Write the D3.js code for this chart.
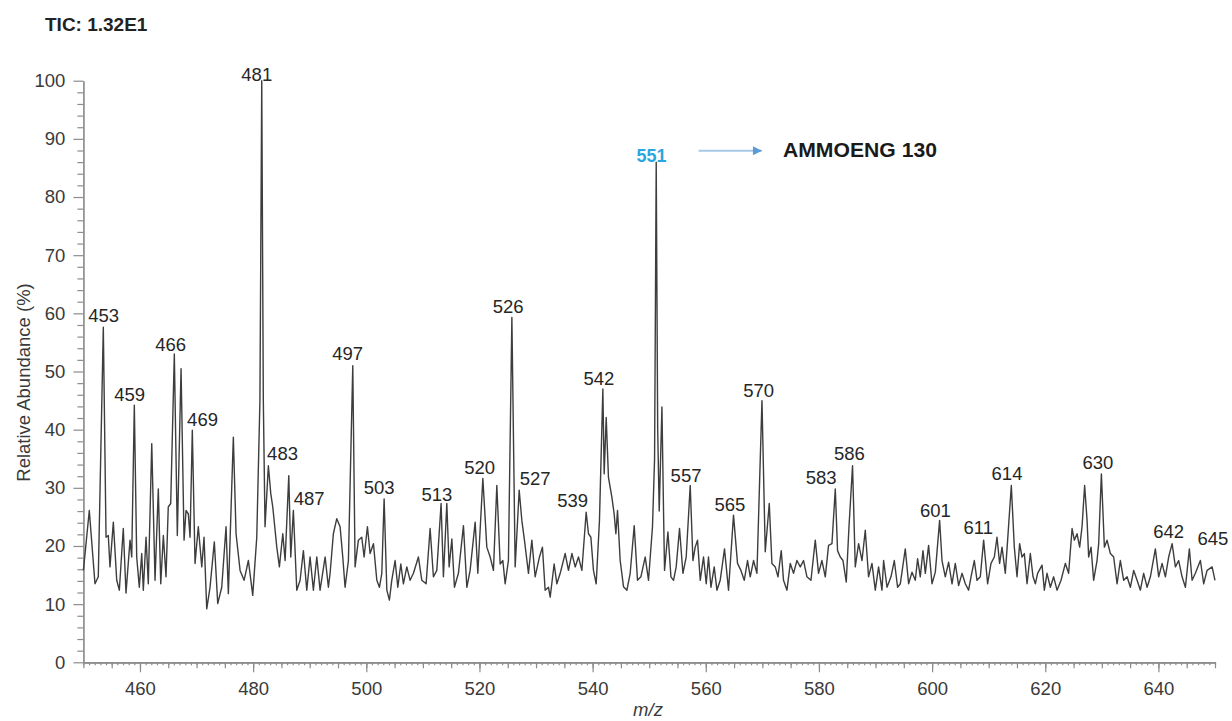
<!DOCTYPE html>
<html>
<head>
<meta charset="utf-8">
<script src="https://cdn.jsdelivr.net/npm/d3@7"></script>
<style>
    body { margin: 0; background: #fff; }
    text { font-family: "Liberation Sans", Arial, sans-serif; }
</style>
</head>
<body>
<svg class="chart"></svg>
<script>

// m/z values and relative abundance (%)
var mzValues = [
    450.0, 451.04, 452.05, 452.63, 453.52, 454.0, 454.4, 454.7, 455.29, 455.89,
    456.35, 457.05, 457.53, 458.24, 458.54, 459.0, 459.42, 459.88, 460.31, 460.59,
    461.07, 461.47, 462.08, 462.66, 463.24, 463.67, 464.13, 464.6, 465.0, 465.43,
    466.07, 466.6, 467.26, 467.79, 468.14, 468.55, 468.85, 469.25, 469.73, 470.31,
    470.92, 471.32, 471.8, 472.38, 473.14, 473.74, 474.45, 475.21, 475.62, 476.5,
    476.98, 477.69, 478.4, 479.16, 479.93, 480.64, 481.2, 481.52, 481.8, 482.1,
    482.69, 483.12, 483.47, 484.18, 484.64, 485.24, 485.65, 486.3, 486.65, 487.11,
    487.71, 488.3, 488.88, 489.48, 490.06, 490.65, 491.25, 491.83, 492.72, 493.3,
    493.6, 494.18, 494.78, 495.37, 495.84, 496.25, 496.84, 497.61, 498.02, 498.6,
    499.2, 499.61, 500.2, 500.67, 501.26, 501.86, 502.32, 502.74, 503.15, 503.63,
    504.08, 504.5, 505.09, 505.57, 506.1, 506.56, 507.16, 507.74, 508.33, 509.21,
    509.81, 510.57, 511.28, 511.86, 512.46, 513.22, 513.63, 514.23, 514.64, 515.12,
    515.58, 516.28, 517.17, 517.77, 518.35, 519.24, 519.71, 520.6, 521.3, 521.89,
    522.47, 523.07, 523.66, 524.13, 524.54, 525.12, 525.73, 526.31, 527.02, 527.49,
    527.95, 528.66, 529.26, 529.84, 530.6, 531.13, 531.61, 532.2, 532.5, 533.2,
    533.68, 534.27, 535.15, 535.73, 536.34, 536.92, 537.5, 538.1, 538.86, 539.27,
    539.69, 540.15, 540.63, 541.21, 541.81, 542.04, 542.4, 542.8, 543.4, 543.81,
    544.11, 544.4, 544.87, 545.46, 546.06, 546.64, 547.35, 547.93, 548.53, 549.29,
    549.88, 550.58, 550.95, 551.24, 551.5, 551.77, 552.25, 552.55, 552.71, 553.31,
    553.84, 554.3, 554.77, 555.36, 555.96, 556.54, 557.25, 557.73, 558.13, 558.54,
    559.02, 559.6, 560.08, 560.48, 560.91, 561.49, 561.97, 562.55, 563.31, 564.02,
    564.9, 565.61, 566.21, 566.8, 567.38, 567.86, 568.44, 569.04, 569.93, 570.51,
    571.22, 571.69, 572.28, 572.76, 573.34, 573.74, 574.35, 574.93, 575.51, 576.11,
    576.7, 577.28, 577.88, 578.59, 579.35, 579.93, 580.53, 581.12, 581.7, 582.3,
    582.89, 583.29, 583.77, 584.25, 584.83, 585.31, 585.94, 586.42, 587.01, 587.61,
    588.19, 588.77, 589.37, 589.96, 590.54, 591.14, 591.43, 592.03, 592.73, 593.32,
    593.9, 594.38, 595.26, 595.85, 596.45, 597.03, 597.44, 597.91, 598.39, 598.8,
    599.38, 599.98, 600.57, 601.33, 601.75, 602.33, 602.92, 603.52, 604.1, 604.69,
    605.29, 605.87, 606.45, 606.88, 607.46, 607.94, 608.52, 609.11, 609.81, 610.41,
    611.0, 611.47, 611.93, 612.36, 612.94, 613.35, 614.0, 614.53, 615.01, 615.47,
    615.89, 616.3, 616.78, 617.36, 617.84, 618.25, 618.65, 619.43, 619.84, 620.31,
    620.9, 621.48, 622.08, 622.79, 623.55, 624.13, 624.74, 625.14, 625.62, 626.08,
    626.5, 626.96, 627.39, 627.67, 628.09, 628.55, 629.15, 629.44, 629.92, 630.45,
    630.92, 631.51, 632.09, 632.69, 633.27, 633.86, 634.46, 635.04, 635.63, 636.23,
    636.81, 637.39, 638.0, 638.58, 639.46, 640.05, 640.65, 641.23, 641.81, 642.42,
    643.0, 643.58, 644.18, 644.77, 645.47, 645.95, 646.53, 647.42, 648.0, 648.6,
    649.49, 650.0
];

var abundance = [
    15.8, 26.1, 13.5, 14.7, 57.6, 21.5, 21.8, 16.4, 24.1, 14.1,
    12.4, 23.0, 11.9, 21.0, 18.1, 44.2, 18.1, 12.9, 18.7, 12.4,
    21.5, 13.5, 37.6, 14.1, 29.8, 13.5, 21.8, 14.7, 26.7, 27.3,
    53.0, 21.8, 50.5, 21.0, 26.1, 25.5, 21.5, 39.9, 17.0, 23.3,
    16.4, 21.5, 9.2, 12.9, 20.7, 10.1, 12.9, 23.3, 11.8, 38.7,
    22.1, 15.8, 14.1, 17.5, 11.5, 21.5, 45.0, 100.0, 45.0, 23.3,
    33.8, 29.0, 26.7, 19.8, 16.4, 22.1, 17.5, 32.1, 18.1, 26.1,
    12.4, 14.1, 19.2, 12.4, 18.1, 12.4, 18.1, 12.4, 18.1, 12.9,
    15.3, 22.1, 24.7, 23.3, 18.1, 12.9, 17.5, 51.0, 16.4, 21.0,
    21.5, 18.1, 23.3, 18.7, 20.4, 14.1, 12.9, 15.3, 28.1, 12.4,
    10.7, 14.1, 17.5, 12.9, 16.9, 13.5, 16.4, 14.1, 15.3, 18.1,
    14.1, 13.5, 23.0, 14.7, 15.8, 27.3, 14.7, 27.3, 16.4, 21.2,
    12.9, 15.3, 23.5, 12.9, 15.8, 24.1, 15.3, 31.6, 19.8, 18.1,
    15.8, 30.4, 16.9, 17.5, 13.5, 17.5, 59.3, 16.4, 29.6, 24.4,
    21.0, 15.3, 21.0, 14.7, 18.1, 19.8, 12.4, 12.9, 11.2, 16.9,
    13.5, 15.3, 18.7, 15.8, 18.7, 16.4, 18.1, 15.8, 25.8, 22.1,
    21.5, 15.8, 13.5, 24.4, 47.0, 32.4, 42.1, 31.8, 28.4, 25.5,
    22.1, 26.1, 17.5, 13.0, 12.4, 15.3, 23.5, 14.1, 14.7, 18.1,
    14.1, 23.3, 35.0, 86.0, 40.0, 26.0, 43.9, 25.0, 15.8, 22.4,
    14.7, 14.1, 16.4, 23.0, 15.3, 18.1, 30.4, 17.5, 19.8, 21.0,
    14.1, 18.1, 13.5, 18.1, 12.9, 16.4, 12.4, 14.1, 19.5, 12.4,
    25.3, 17.0, 15.8, 14.1, 17.5, 14.7, 17.5, 15.3, 45.0, 19.0,
    27.3, 17.0, 16.4, 14.7, 19.2, 14.1, 12.4, 17.0, 15.3, 17.5,
    16.4, 17.5, 14.7, 14.1, 21.0, 15.3, 17.5, 14.7, 20.1, 20.4,
    29.8, 19.2, 18.1, 17.5, 13.8, 23.3, 33.8, 16.4, 20.4, 17.5,
    22.7, 14.7, 17.0, 12.4, 16.4, 12.4, 17.5, 12.9, 14.7, 17.5,
    12.9, 13.5, 19.5, 13.5, 15.5, 14.1, 17.8, 14.7, 19.2, 15.3,
    20.1, 13.5, 15.5, 24.4, 17.5, 14.7, 17.2, 13.5, 17.0, 13.2,
    15.3, 13.5, 12.4, 14.7, 17.5, 14.1, 14.7, 21.0, 13.5, 17.0,
    18.1, 21.5, 17.0, 19.8, 15.3, 21.0, 30.4, 19.8, 14.7, 20.4,
    18.1, 18.7, 13.5, 18.7, 14.7, 13.5, 15.3, 16.7, 12.4, 15.3,
    12.9, 14.7, 12.4, 14.1, 17.0, 15.3, 23.0, 21.0, 22.1, 19.8,
    23.3, 30.4, 24.4, 18.1, 19.8, 14.1, 17.5, 20.4, 32.4, 19.8,
    21.0, 18.7, 18.1, 13.5, 17.5, 14.1, 14.7, 12.9, 15.8, 14.1,
    12.4, 15.3, 12.9, 14.7, 19.5, 14.7, 17.0, 14.7, 18.1, 20.4,
    16.4, 17.5, 14.7, 12.9, 19.5, 14.1, 15.3, 17.5, 13.5, 15.8,
    16.4, 14.1
];

// peak labels: text, m/z and abundance of the label anchor
var peakLabels = ["453", "459", "466", "469", "481", "483", "487", "497", "503", "513",
    "520", "526", "527", "539", "542", "551", "557", "565", "570", "583",
    "586", "601", "611", "614", "630", "642", "645"];
var peakLabelMz = [453.59, 458.19, 465.43, 471.06, 480.64, 485.2, 489.89, 496.69, 502.26, 512.47,
    520.03, 525.07, 529.85, 536.48, 541.12, 550.41, 556.51, 564.27, 569.33, 580.38,
    585.4, 600.57, 608.17, 613.24, 629.3, 641.82, 649.63];
var peakLabelAb = [58.5, 45.0, 53.6, 40.7, 100.0, 34.7, 27.0, 51.9, 29.0, 27.8,
    32.4, 60.0, 30.4, 26.7, 47.6, 86.0, 31.0, 26.1, 45.6, 30.7,
    34.7, 25.0, 22.1, 31.3, 33.3, 21.4, 20.1];

var xDomain = [450, 650];
var yDomain = [0, 100];
var xMajorTicks = [460, 480, 500, 520, 540, 560, 580, 600, 620, 640];
var yMajorTicks = [0, 10, 20, 30, 40, 50, 60, 70, 80, 90, 100];

var chartWidth = 1232, chartHeight = 721;

var svg = d3.select(".chart")
    .attr("width", chartWidth)
    .attr("height", chartHeight);

var x = d3.scaleLinear().domain(xDomain).range([83.4, 1215]);
var y = d3.scaleLinear().domain(yDomain).range([662.3, 80.7]);

// title
svg.append("text")
    .attr("x", 45)
    .attr("y", 31)
    .style("font-size", "19px")
    .style("font-weight", "bold")
    .style("fill", "#222")
    .text("TIC: 1.32E1");

// y axis: minor ticks every 2, major every 10
var yMinor = svg.append("g")
    .attr("transform", "translate(" + x(xDomain[0]) + ",0)")
    .call(d3.axisLeft(y)
        .tickValues(d3.range(0, 101, 2).filter(function (v) { return v % 10 != 0; }))
        .tickSize(6).tickSizeOuter(0).tickFormat(""));

var yMajor = svg.append("g")
    .attr("transform", "translate(" + x(xDomain[0]) + ",0)")
    .call(d3.axisLeft(y).tickValues(yMajorTicks).tickSize(10).tickSizeOuter(0).tickPadding(8));

// x axis: minor every 1, medium every 5, major every 20
var xMinor = svg.append("g")
    .attr("transform", "translate(0," + y(0) + ")")
    .call(d3.axisBottom(x).tickValues(d3.range(450, 651, 1)).tickSize(3).tickSizeOuter(0).tickFormat(""));

var xMid = svg.append("g")
    .attr("transform", "translate(0," + y(0) + ")")
    .call(d3.axisBottom(x).tickValues(d3.range(450, 651, 5)).tickSize(6).tickSizeOuter(0).tickFormat(""));

var xMajor = svg.append("g")
    .attr("transform", "translate(0," + y(0) + ")")
    .call(d3.axisBottom(x).tickValues(xMajorTicks).tickSize(10).tickSizeOuter(0).tickPadding(9.5));

svg.selectAll(".domain, .tick line")
    .attr("stroke", "#8c8c8c")
    .attr("stroke-width", 1.2);
svg.selectAll(".tick text")
    .style("font-family", "'Liberation Sans', Arial, sans-serif")
    .style("font-size", "18.5px")
    .style("fill", "#3a3a3a");

// axis titles
svg.append("text")
    .attr("transform", "translate(30,382.5) rotate(-90)")
    .attr("text-anchor", "middle")
    .style("font-size", "18.5px")
    .style("fill", "#3a3a3a")
    .text("Relative Abundance (%)");

svg.append("text")
    .attr("x", 648)
    .attr("y", 716)
    .attr("text-anchor", "middle")
    .style("font-size", "18.5px")
    .style("font-style", "italic")
    .style("fill", "#3a3a3a")
    .text("m/z");

// spectrum trace
var spectrum = mzValues.map(function (m, i) { return [m, abundance[i]]; });

var line = d3.line()
    .x(function (d) { return x(d[0]); })
    .y(function (d) { return y(d[1]); });

svg.append("path")
    .datum(spectrum)
    .attr("d", line)
    .attr("fill", "none")
    .attr("stroke", "#3d3d3d")
    .attr("stroke-width", 1.4)
    .attr("stroke-linejoin", "round");

// peak labels
svg.selectAll("text.peak")
    .data(peakLabels)
    .enter().append("text")
    .attr("class", "peak")
    .attr("x", function (d, i) { return x(peakLabelMz[i]); })
    .attr("y", function (d, i) { return y(peakLabelAb[i]); })
    .attr("text-anchor", "middle")
    .style("font-size", d => d == "551" ? "18px" : "18.5px")
    .style("font-weight", d => d == "551" ? "bold" : "normal")
    .style("fill", d => d == "551" ? "#2aa7e0" : "#262626")
    .text(function (d) { return d; });

// arrow to the compound name
svg.append("defs").append("marker")
    .attr("id", "arrowhead")
    .attr("viewBox", "0 0 10 10")
    .attr("refX", 10).attr("refY", 5)
    .attr("markerWidth", 11).attr("markerHeight", 9)
    .attr("markerUnits", "userSpaceOnUse")
    .attr("orient", "auto")
    .append("path")
    .attr("d", "M0,0 L10,5 L0,10 z")
    .attr("fill", "#5b9bd5");

svg.append("line")
    .attr("x1", x(558.72)).attr("y1", y(87.96))
    .attr("x2", x(569.93)).attr("y2", y(87.96))
    .attr("stroke", "#a8c8e8")
    .attr("stroke-width", 2)
    .attr("marker-end", "url(#arrowhead)");

svg.append("text")
    .attr("x", x(573.64))
    .attr("y", y(86.93))
    .attr("textLength", 154)
    .attr("lengthAdjust", "spacingAndGlyphs")
    .style("font-size", "20px")
    .style("font-weight", "bold")
    .style("fill", "#1a1a1a")
    .text("AMMOENG 130");

</script>
</body>
</html>
